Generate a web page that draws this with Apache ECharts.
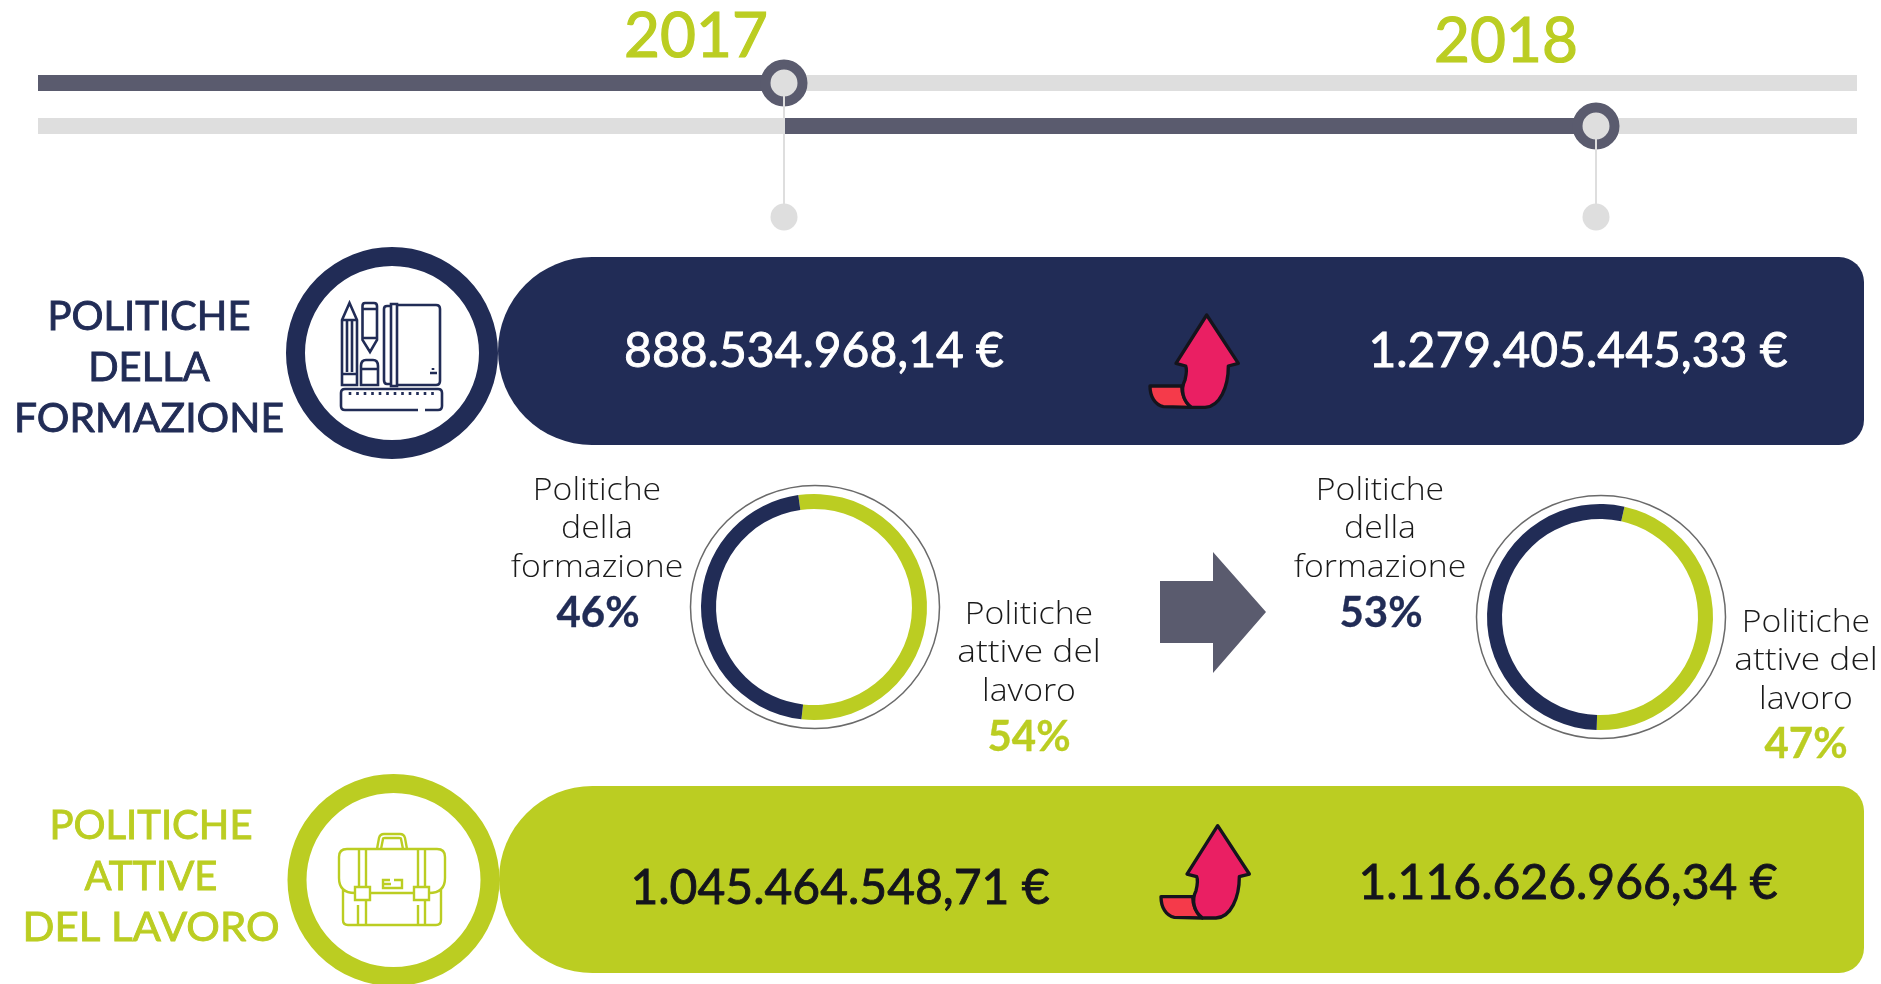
<!DOCTYPE html>
<html>
<head>
<meta charset="utf-8">
<title>Politiche della formazione e politiche attive del lavoro</title>
<script src="https://cdn.jsdelivr.net/npm/echarts@6/dist/echarts.min.js"></script>
<style>
  html, body { margin: 0; padding: 0; background: #fff; }
  #main { width: 1881px; height: 984px; }
</style>
</head>
<body>
<div id="main"></div>
<script>
// data
const years = ['2017', '2018'];
const categories = ['Politiche della formazione', 'Politiche attive del lavoro'];
const share2017 = [46, 54];
const share2018 = [53, 47];
const amountsFormazione = ['888.534.968,14 €', '1.279.405.445,33 €'];
const amountsLavoro = ['1.045.464.548,71 €', '1.116.626.966,34 €'];
const titleFormazione = ['POLITICHE', 'DELLA', 'FORMAZIONE'];
const titleLavoro = ['POLITICHE', 'ATTIVE', 'DEL LAVORO'];
const labelFormazione = ['Politiche', 'della', 'formazione'];
const labelLavoro = ['Politiche', 'attive del', 'lavoro'];

const NAVY = '#212c56';
const GREEN = '#bbcd22';
const SLATE = '#5a5b6e';
const LIGHT = '#dedede';
const INK = '#14141c';
const HEAD_FONT = 'Lato, sans-serif';
const THIN_FONT = '"Open Sans", sans-serif';

// icons, the picture has them as clip art
const arrowMain = 'M260 75 L355 220 L325 228 C325 290 300 350 255 352 L215 352 C190 335 180 300 195 270 C200 250 200 235 197 228 L168 220 Z';
const arrowTail = 'M90 288 L185 288 C185 310 195 335 213 352 L130 350 C105 345 90 320 90 288 Z';

let rulerTicks = '';
for (let x = 350; x < 435; x += 7.5) rulerTicks += 'M' + x + ' 392 L' + x + ' 395 ';
const bookIcon =
  'M342 385 L342 320 L349.5 303 L357 320 L357 385 Z M342 320 L357 320 M347 320 L347 372 M352 320 L352 372 M342 374 L357 374 ' +
  'M362.5 306 Q362.5 303 365 303 L374 303 Q377 303 377 306 L377 340 L370 352 L362.5 340 Z M362.5 309 L377 309 M362.5 338 L377 338 ' +
  'M361 385 L361 366 Q361 360 366 360 L373 360 Q378 360 378 366 L378 385 Z M361 369 L378 369 ' +
  'M397 305 L436 305 Q440 305 440 309 L440 381 Q440 385 436 385 L397 385 M391 304 L397 304 L397 386 L391 386 Z ' +
  'M391 306 L387 306 Q384 306 384 309 L384 380 Q384 384 387 384 L391 384 M430 373 L437 373 M433 368 L433 370 ' +
  'M418 410 L345 410 Q341 410 341 406 L341 393 Q341 389 345 389 L438 389 Q442 389 442 393 L442 406 Q442 410 438 410 L425 410 ' + rulerTicks;
const caseIcon =
  'M355 893 Q339 893 339 878 L339 857 Q339 849 347 849 L437 849 Q445 849 445 857 L445 878 Q445 893 429 893 M370 893 L414 893 ' +
  'M343 890 L343 920 Q343 925 348 925 L436 925 Q441 925 441 920 L441 890 ' +
  'M377 849 L379 838 Q380 834 384 834 L400 834 Q404 834 405 838 L407 849 M381 849 L383 839 Q383 838 385 838 L399 838 Q401 838 401 839 L403 849 ' +
  'M359 849 L359 887 M366 849 L366 887 M418 849 L418 887 M425 849 L425 887 ' +
  'M358 905 L358 925 M366 900 L366 925 M418 905 L418 925 M425 900 L425 925 ' +
  'M355 887 L370 887 L370 900 L355 900 Z M414 887 L429 887 L429 900 L414 900 Z ' +
  'M394 880 L402 880 L402 888 L383 888 L383 880 L390 880 M383 884 L391 884';
echarts.graphic.registerShape('arrowMain', echarts.graphic.extendPath(arrowMain));
echarts.graphic.registerShape('arrowTail', echarts.graphic.extendPath(arrowTail));
echarts.graphic.registerShape('bookIcon', echarts.graphic.extendPath(bookIcon));
echarts.graphic.registerShape('caseIcon', echarts.graphic.extendPath(caseIcon));

// bold: thin outline of the same colour, Lato has no medium weight here
function txt(text, x, y, size, color, bold, family, weight, stretch) {
  return {
    type: 'text', x: x, y: y, silent: true, scaleX: stretch || 1,
    style: {
      text: text, fill: color, align: 'center', verticalAlign: 'middle',
      stroke: bold ? color : 'none', lineWidth: bold || 0,
      font: (weight || 400) + ' ' + size + 'px ' + (family || HEAD_FONT)
    }
  };
}
function rect(x, y, w, h, fill, r) {
  return { type: 'rect', silent: true, shape: { x: x, y: y, width: w, height: h, r: r || 0 }, style: { fill: fill } };
}
function ring(cx, cy, r, width, color) {
  return { type: 'circle', silent: true, shape: { cx: cx, cy: cy, r: r }, style: { fill: '#fff', stroke: color, lineWidth: width } };
}
function upArrow(dx, dy) {
  const common = { stroke: INK, lineWidth: 10, lineJoin: 'round' };
  return {
    type: 'group', x: dx, y: dy, scaleX: 1 / 3, scaleY: 1 / 3, silent: true,
    children: [
      { type: 'arrowTail', style: Object.assign({ fill: '#f53a4a' }, common) },
      { type: 'arrowMain', style: Object.assign({ fill: '#ea1f63' }, common) }
    ]
  };
}
function title(list, x, ys, color, stretch) {
  return list.map((t, i) => txt(t, x, ys[i], 40, color, 0.9, HEAD_FONT, 400, stretch[i]));
}
function thin(list, x, ys, stretch) {
  return list.map((t, i) => txt(t, x, ys[i], 31, '#1a1a1a', 0, THIN_FONT, 300, stretch[i]));
}

const elements = [
  // timeline
  rect(38, 75, 1819, 16, LIGHT),
  rect(38, 118, 1819, 16, LIGHT),
  rect(38, 75, 746, 16, SLATE),
  rect(785, 118, 811, 16, SLATE),
  { type: 'line', silent: true, shape: { x1: 784, y1: 83, x2: 784, y2: 217 }, style: { stroke: LIGHT, lineWidth: 2 } },
  { type: 'line', silent: true, shape: { x1: 1596, y1: 126, x2: 1596, y2: 217 }, style: { stroke: LIGHT, lineWidth: 2 } },
  { type: 'circle', silent: true, shape: { cx: 784, cy: 83, r: 18.5 }, style: { fill: LIGHT, stroke: SLATE, lineWidth: 10 } },
  { type: 'circle', silent: true, shape: { cx: 1596, cy: 126, r: 18.5 }, style: { fill: LIGHT, stroke: SLATE, lineWidth: 10 } },
  { type: 'line', silent: true, shape: { x1: 784, y1: 96, x2: 784, y2: 107 }, style: { stroke: LIGHT, lineWidth: 2 } },
  { type: 'line', silent: true, shape: { x1: 1596, y1: 139, x2: 1596, y2: 150 }, style: { stroke: LIGHT, lineWidth: 2 } },
  { type: 'circle', silent: true, shape: { cx: 784, cy: 217, r: 13.5 }, style: { fill: LIGHT } },
  { type: 'circle', silent: true, shape: { cx: 1596, cy: 217, r: 13.5 }, style: { fill: LIGHT } },
  txt(years[0], 696, 37, 62, GREEN, 1.2),
  txt(years[1], 1506, 42, 62, GREEN, 1.2),

  // navy band
  rect(498, 257, 1366, 188, NAVY, [94, 25, 25, 94]),
  ring(392, 353, 96.5, 19, NAVY),
  { type: 'bookIcon', silent: true, style: { fill: 'none', stroke: NAVY, lineWidth: 2.6 } },
  txt(amountsFormazione[0], 814, 352, 48, '#fff', 0.9),
  txt(amountsFormazione[1], 1578, 352, 48, '#fff', 0.9),
  upArrow(1120, 290),

  // green band
  rect(499, 786, 1365, 187, GREEN, [94, 25, 25, 94]),
  ring(393.5, 880, 96.5, 19, GREEN),
  { type: 'caseIcon', silent: true, style: { fill: 'none', stroke: GREEN, lineWidth: 2.4 } },
  txt(amountsLavoro[0], 840, 889, 48, INK, 0.9),
  txt(amountsLavoro[1], 1568, 884, 48, INK, 0.9),
  upArrow(1131, 800.7),

  // thin rings around the donuts
  { type: 'ellipse', silent: true, z: -1, shape: { cx: 815, cy: 607, rx: 124.5, ry: 121.5 }, style: { fill: 'none', stroke: '#6a6a6a', lineWidth: 1.5 } },
  { type: 'ellipse', silent: true, z: -1, shape: { cx: 1601, cy: 617, rx: 124.5, ry: 121.5 }, style: { fill: 'none', stroke: '#6a6a6a', lineWidth: 1.5 } },

  // big arrow between the donuts
  { type: 'polygon', silent: true, shape: { points: [[1160, 581], [1213, 581], [1213, 552], [1266, 612], [1213, 673], [1213, 643], [1160, 643]] }, style: { fill: SLATE } }
];

const stretchLeft = [1.09, 1.09, 1.09];
const stretchRight = [1.09, 1.14, 1.09];

elements.push(...title(titleFormazione, 149, [317.5, 368.5, 419.5], NAVY, [1, 1, 1.02]));
elements.push(...title(titleLavoro, 151, [826.5, 877.5, 928.5], GREEN, [1, 1, 1.05]));

elements.push(...thin(labelFormazione, 597, [491, 529, 568], stretchLeft));
elements.push(txt(share2017[0] + '%', 598, 613, 42, NAVY, 0.3, HEAD_FONT, 700));
elements.push(...thin(labelLavoro, 1029, [615, 653, 692], stretchRight));
elements.push(txt(share2017[1] + '%', 1029, 737, 42, GREEN, 0.3, HEAD_FONT, 700));

elements.push(...thin(labelFormazione, 1380, [491, 529, 568], stretchLeft));
elements.push(txt(share2018[0] + '%', 1381, 613, 42, NAVY, 0.3, HEAD_FONT, 700));
elements.push(...thin(labelLavoro, 1806, [623, 661, 700], stretchRight));
elements.push(txt(share2018[1] + '%', 1806, 744, 42, GREEN, 0.3, HEAD_FONT, 700));

function donut(values, center, startAngle) {
  return {
    type: 'pie',
    silent: true,
    animation: false,
    center: center,
    radius: [98, 113],
    startAngle: startAngle,
    label: { show: false },
    labelLine: { show: false },
    data: [
      { name: categories[1], value: values[1], itemStyle: { color: GREEN } },
      { name: categories[0], value: values[0], itemStyle: { color: NAVY } }
    ]
  };
}

const chart = echarts.init(document.getElementById('main'));
chart.setOption({
  backgroundColor: '#fff',
  animation: false,
  series: [
    donut(share2017, [814, 607], 98),
    donut(share2018, [1600, 617], 77.5)
  ],
  graphic: { elements: elements }
});
</script>
</body>
</html>
